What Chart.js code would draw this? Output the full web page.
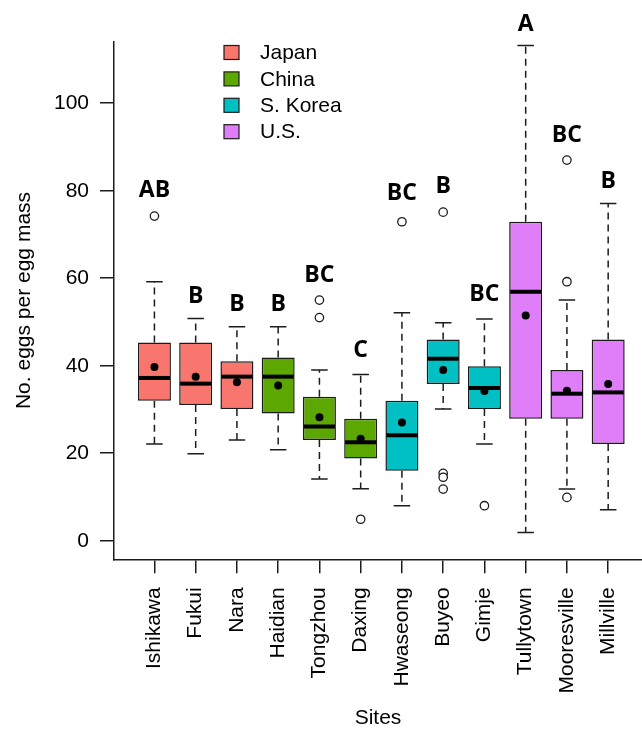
<!DOCTYPE html>
<html>
<head>
<meta charset="utf-8">
<title>No. eggs per egg mass by site</title>
<script src="https://cdn.jsdelivr.net/npm/chart.js@4/dist/chart.umd.min.js"></script>
<style>
  html, body { margin: 0; padding: 0; background: #ffffff; }
  #wrap { width: 642px; height: 731px; }
</style>
</head>
<body>
<div id="wrap"><canvas id="chart" width="642" height="731"></canvas></div>
<script>
// ---- data -------------------------------------------------------------
const sites = ['Ishikawa', 'Fukui', 'Nara', 'Haidian', 'Tongzhou', 'Daxing',
               'Hwaseong', 'Buyeo', 'Gimje', 'Tullytown', 'Mooresville', 'Millville'];
const siteCountry = [0, 0, 0, 1, 1, 1, 2, 2, 2, 3, 3, 3];
const countries = ['Japan', 'China', 'S. Korea', 'U.S.'];

const lowerWhisker = [22.1, 19.9, 23.0, 20.8, 14.1, 11.9,  8.0, 30.1, 22.1,   1.9, 11.8,  7.1];
const quartile1    = [32.0, 31.0, 30.1, 29.1, 23.0, 18.8, 16.0, 35.8, 30.1,  27.9, 27.9, 22.1];
const medians      = [37.2, 35.9, 37.5, 37.5, 26.1, 22.5, 24.1, 41.6, 34.9,  56.9, 33.6, 33.9];
const quartile3    = [45.3, 45.3, 41.0, 41.9, 32.9, 27.9, 32.0, 46.0, 39.9,  72.9, 39.0, 46.0];
const upperWhisker = [59.2, 50.8, 48.9, 48.9, 39.0, 38.0, 52.1, 49.8, 50.7, 113.2, 55.0, 77.1];
const means        = [39.7, 37.5, 36.2, 35.5, 28.2, 23.3, 27.0, 39.0, 34.2,  51.5, 34.3, 35.8];

// [site index, value]
const outliers = [
  [0, 74.2],
  [4, 55.0], [4, 51.0],
  [5, 4.9],
  [6, 72.9],
  [7, 75.1], [7, 15.4], [7, 14.5], [7, 11.8],
  [8, 8.0],
  [10, 87.0], [10, 59.2], [10, 9.9]
];

// significance groups and the height at which each is written
const groupLetters = ['AB', 'B', 'B', 'B', 'BC', 'C', 'BC', 'B', 'BC', 'A', 'BC', 'B'];
const letterHeight = [80.0, 55.8, 53.9, 53.9, 60.7, 43.6, 79.4, 80.9, 56.2, 117.9, 92.7, 82.1];

const yTicks = [0, 20, 40, 60, 80, 100];

// ---- styling ------------------------------------------------------------
const countryColors = ['#F8766D', '#5CA800', '#00C0C4', '#E07DF8'];
const INK = '#1c1c1c';
const FONT = '"Liberation Sans", Arial, sans-serif';

// ---- datasets built from the arrays --------------------------------------
const boxData = sites.map((s, i) => ({ x: i + 1, y: [quartile1[i], quartile3[i]] }));
const meanData = sites.map((s, i) => ({ x: i + 1, y: means[i] }));
const outlierData = outliers.map(([i, v]) => ({ x: i + 1, y: v }));

// whiskers, caps, medians, group letters and the legend
const boxPlotParts = {
  id: 'boxPlotParts',
  beforeDatasetsDraw(chart) {
    const { ctx, scales: { x, y } } = chart;
    const boxes = chart.getDatasetMeta(0).data;
    ctx.save();
    ctx.strokeStyle = INK;
    ctx.lineWidth = 1.5;
    sites.forEach((s, i) => {
      const cx = x.getPixelForValue(i + 1);
      const half = boxes[i].width / 4;
      ctx.setLineDash([7, 5]);
      ctx.beginPath();
      ctx.moveTo(cx, y.getPixelForValue(quartile3[i]));
      ctx.lineTo(cx, y.getPixelForValue(upperWhisker[i]));
      ctx.moveTo(cx, y.getPixelForValue(quartile1[i]));
      ctx.lineTo(cx, y.getPixelForValue(lowerWhisker[i]));
      ctx.stroke();
      ctx.setLineDash([]);
      ctx.beginPath();
      const yt = y.getPixelForValue(upperWhisker[i]);
      const yb = y.getPixelForValue(lowerWhisker[i]);
      ctx.moveTo(cx - half, yt); ctx.lineTo(cx + half, yt);
      ctx.moveTo(cx - half, yb); ctx.lineTo(cx + half, yb);
      ctx.stroke();
    });
    ctx.restore();
  },
  afterDatasetDraw(chart, args) {
    if (args.index !== 0) return;
    const { ctx, scales: { x, y } } = chart;
    const boxes = chart.getDatasetMeta(0).data;
    ctx.save();
    ctx.strokeStyle = '#000';
    ctx.lineWidth = 4;
    sites.forEach((s, i) => {
      const cx = x.getPixelForValue(i + 1);
      const half = boxes[i].width / 2;
      const ym = y.getPixelForValue(medians[i]);
      ctx.beginPath();
      ctx.moveTo(cx - half + 1, ym);
      ctx.lineTo(cx + half - 1, ym);
      ctx.stroke();
    });
    ctx.restore();
  },
  afterDraw(chart) {
    const { ctx, chartArea, scales: { x, y } } = chart;
    ctx.save();
    // group letters
    ctx.fillStyle = '#000';
    ctx.font = 'bold 23px "Open Sans", sans-serif';
    ctx.textAlign = 'center';
    ctx.textBaseline = 'middle';
    groupLetters.forEach((t, i) => {
      ctx.fillText(t, x.getPixelForValue(i + 1), y.getPixelForValue(letterHeight[i]));
    });
    // legend
    const lx = chartArea.left + 110;
    const ly = chartArea.top + 10.8;
    const rowGap = 26.4;
    ctx.font = '21px ' + FONT;
    ctx.textAlign = 'left';
    countries.forEach((c, k) => {
      const cy = ly + k * rowGap;
      ctx.fillStyle = countryColors[k];
      ctx.fillRect(lx, cy - 7, 15, 14);
      ctx.strokeStyle = INK;
      ctx.lineWidth = 1.2;
      ctx.strokeRect(lx, cy - 7, 15, 14);
      ctx.fillStyle = '#000';
      ctx.fillText(c, lx + 36, cy + 1);
    });
    ctx.restore();
  }
};

new Chart(document.getElementById('chart'), {
  type: 'bar',
  data: {
    datasets: [
      {
        type: 'bar',
        label: 'IQR',
        data: boxData,
        backgroundColor: siteCountry.map(k => countryColors[k]),
        borderColor: INK,
        borderWidth: 1.5,
        borderSkipped: false,
        categoryPercentage: 0.8,
        barPercentage: 1.0,
        order: 10
      },
      {
        type: 'scatter',
        label: 'Outliers',
        data: outlierData,
        pointRadius: 4.2,
        pointBackgroundColor: '#ffffff',
        pointBorderColor: INK,
        pointBorderWidth: 1.3,
        order: 2
      },
      {
        type: 'scatter',
        label: 'Mean',
        data: meanData,
        pointRadius: 4,
        pointBackgroundColor: '#000',
        pointBorderColor: '#000',
        pointBorderWidth: 0,
        order: 1
      }
    ]
  },
  options: {
    responsive: false,
    animation: false,
    devicePixelRatio: 1,
    layout: { autoPadding: false, padding: { top: 41.7, left: 0, right: 0, bottom: 0 } },
    plugins: { legend: { display: false }, tooltip: { enabled: false } },
    scales: {
      x: {
        type: 'linear',
        offset: false,
        min: 0.02,
        max: 12.82,
        afterFit(scale) {
          scale.height = 171.7;
          scale.paddingLeft = 0;
          scale.paddingRight = 0;
        },
        afterBuildTicks(scale) { scale.ticks = sites.map((s, i) => ({ value: i + 1 })); },
        grid: { display: true, offset: false, drawOnChartArea: false, drawTicks: true, tickLength: 14, color: INK, lineWidth: 1.5 },
        border: { display: true, color: INK, width: 1.5 },
        ticks: {
          autoSkip: false, minRotation: 90, maxRotation: 90, padding: 14,
          color: '#000', font: { family: FONT, size: 21 },
          callback: (v, idx) => sites[idx]
        },
        title: { display: true, text: 'Sites', color: '#000', font: { family: FONT, size: 21 }, padding: { top: 0, bottom: 0 } }
      },
      y: {
        type: 'linear',
        min: -4.25,
        max: 114.06,
        afterFit(scale) {
          scale.width = 114;
          scale.paddingTop = 0;
          scale.paddingBottom = 0;
        },
        afterBuildTicks(scale) { scale.ticks = yTicks.map(v => ({ value: v })); },
        grid: { display: true, drawOnChartArea: false, drawTicks: true, tickLength: 14, color: INK, lineWidth: 1.5 },
        border: { display: true, color: INK, width: 1.5 },
        ticks: { padding: 11, color: '#000', font: { family: FONT, size: 21 } },
        title: { display: true, text: 'No. eggs per egg mass', color: '#000', font: { family: FONT, size: 21 }, padding: { top: 12, bottom: 0 } }
      }
    }
  },
  plugins: [boxPlotParts]
});
</script>
</body>
</html>
